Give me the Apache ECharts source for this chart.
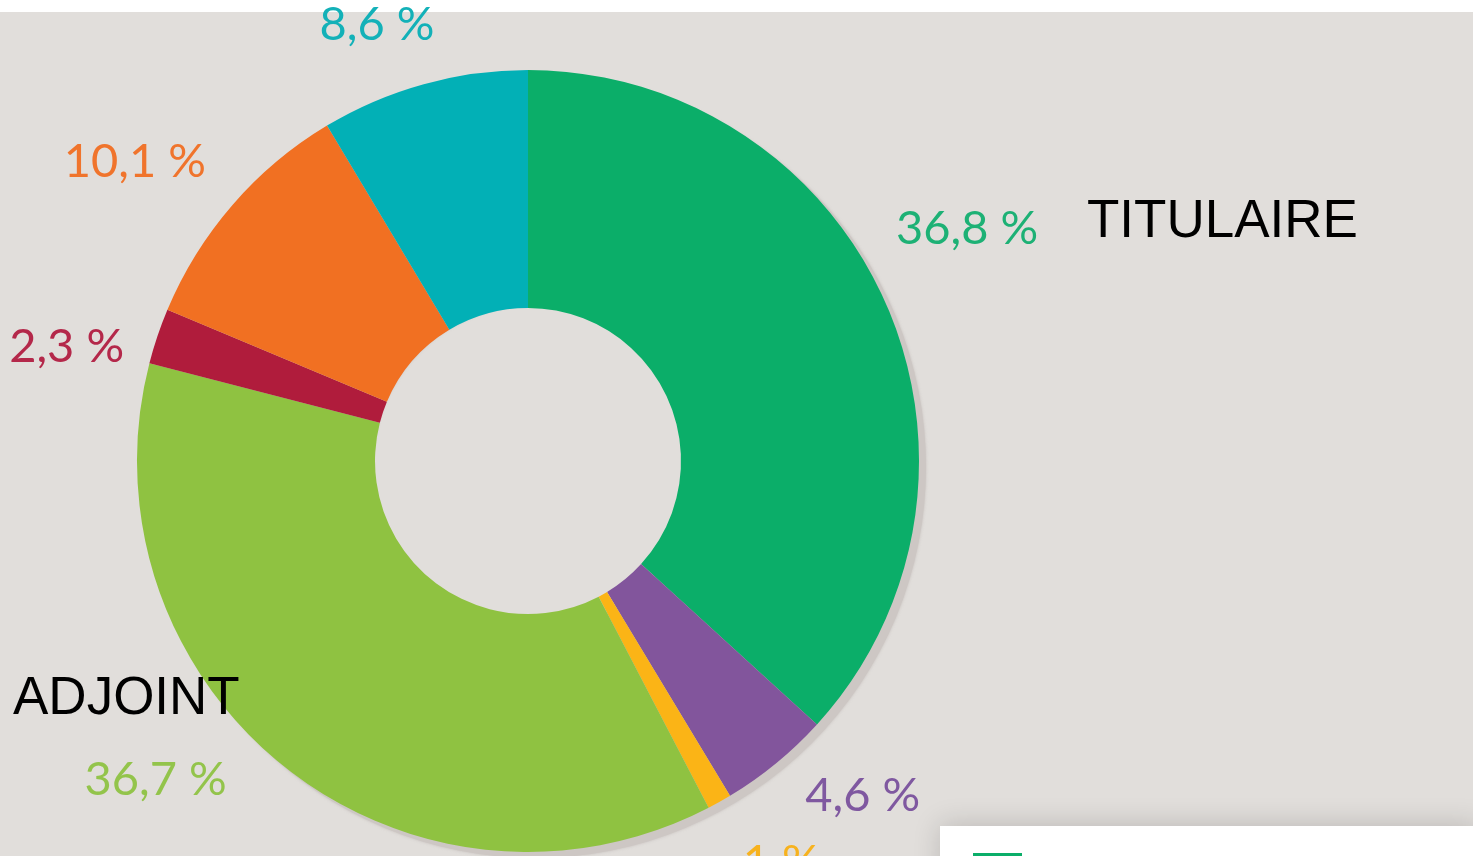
<!DOCTYPE html>
<html>
<head>
<meta charset="utf-8">
<script src="https://cdn.jsdelivr.net/npm/echarts@6/dist/echarts.min.js"></script>
<style>
  html, body { margin: 0; padding: 0; background: #e1dedb; }
  #chart { width: 1473px; height: 856px; }
</style>
</head>
<body>
<div id="chart"></div>
<script>
// ---- data ----
const categories = ['TITULAIRE', 'Segment 2', 'Segment 3', 'ADJOINT', 'Segment 5', 'Segment 6', 'Segment 7'];
const shares = [36.8, 4.6, 1, 36.7, 2.3, 10.1, 8.6];
const sliceColors = ['#0bae69', '#82559c', '#fbb416', '#8fc241', '#b01c3c', '#f17022', '#02b0b6'];
const labelColors = ['#1db175', '#7f58a0', '#f7b21e', '#93c44b', '#b4284a', '#f0742c', '#13b1b8'];
// label nudges (layout only)
const labelNudges = [[12, -7], [3, -16], [-12, -2], [-99, -79], [6, 8], [-7, -9], [10, 19]];

const fmt = v => String(v).replace('.', ',') + ' %';

const chart = echarts.init(document.getElementById('chart'));
const CENTER = [528, 461];

chart.setOption({
  animation: false,
  backgroundColor: '#e1dedb',
  legend: {
    left: 973,
    top: 853,
    padding: 0,
    itemWidth: 49,
    itemHeight: 22,
    icon: 'rect',
    data: [categories[0]],
    textStyle: { color: '#000', fontSize: 20 },
    selectedMode: false,
    z: 20
  },
  graphic: [
    { type: 'rect', left: 0, top: 0, shape: { width: 1473, height: 12 }, style: { fill: '#ffffff' }, z: -1 },
    { type: 'rect', left: 940, top: 826, shape: { width: 540, height: 60 },
      style: { fill: '#ffffff', shadowBlur: 28, shadowColor: 'rgba(0,0,0,0.16)', shadowOffsetY: -2 }, z: -1 },
    { type: 'text', left: 1087, top: 196, z: 50,
      style: { text: 'TITULAIRE', font: '53px "Liberation Sans", Arial, sans-serif', fill: '#000' } },
    { type: 'text', left: 13, top: 673, z: 50,
      style: { text: 'ADJOINT', font: '53px "Liberation Sans", Arial, sans-serif', fill: '#000' } }
  ],
  series: [
    {
      type: 'pie',
      silent: true,
      center: [CENTER[0] + 7, CENTER[1] + 6],
      radius: [163, 391],
      label: { show: false },
      labelLine: { show: false },
      itemStyle: { color: '#cdc7c4', shadowBlur: 3, shadowColor: 'rgba(180,172,168,0.6)' },
      data: [{ value: 1, name: '_shadow' }],
      z: 1
    },
    {
      type: 'pie',
      name: 'main',
      silent: true,
      center: CENTER,
      radius: [153, 391],
      startAngle: 90,
      clockwise: true,
      avoidLabelOverlap: false,
      label: { show: false },
      labelLine: { show: false },
      data: categories.map((c, i) => ({ name: c, value: shares[i], itemStyle: { color: sliceColors[i] } })),
      z: 2
    },
    {
      type: 'pie',
      name: 'labels',
      silent: true,
      center: CENTER,
      radius: [440, 520],
      startAngle: 94,
      clockwise: true,
      avoidLabelOverlap: false,
      minShowLabelAngle: 0,
      labelLine: { show: false },
      itemStyle: { color: 'rgba(0,0,0,0)' },
      data: categories.map((c, i) => ({
        name: c + ' ',
        value: shares[i],
        label: {
          show: true,
          position: 'inside',
          rotate: 0,
          offset: labelNudges[i],
          formatter: fmt(shares[i]),
          color: labelColors[i],
          fontFamily: 'Lato, "Open Sans", sans-serif',
          fontWeight: 400,
          fontSize: 47
        }
      })),
      z: 3
    }
  ]
});
</script>
</body>
</html>
